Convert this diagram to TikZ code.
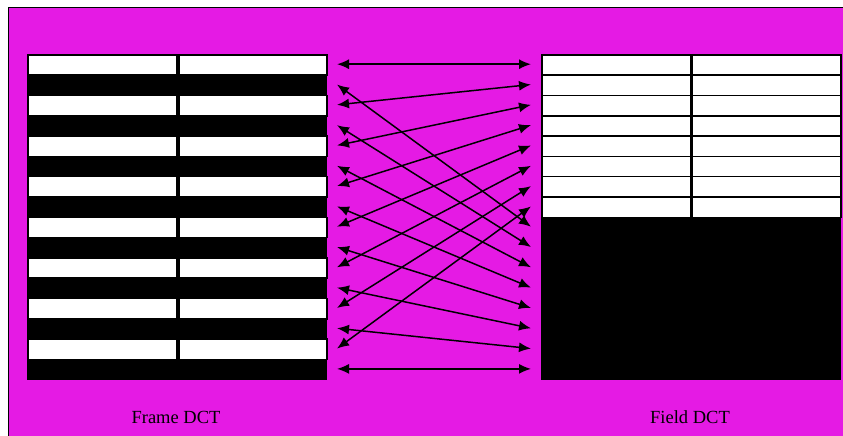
\documentclass[tikz,border=0pt]{standalone}
\usepackage{fontspec}
\setmainfont{Liberation Serif}
\usetikzlibrary{arrows.meta}
\definecolor{bgmag}{RGB}{229,26,228}
\begin{document}
\begin{tikzpicture}[x=1pt,y=-1pt,
  blk/.style={rectangle,fill=black,draw=black,line width=1pt,inner sep=0pt,anchor=north west},
  cell/.style={rectangle,fill=white,draw=black,line width=1.6pt,inner sep=0pt,
    minimum height=20.3125pt,anchor=north west},
  dbl/.style={{Latex[length=12pt,width=10pt]}-{Latex[length=12pt,width=10pt]},line width=1.5pt},
  lbl/.style={font=\fontsize{18.5}{20}\selectfont,inner sep=0pt}]
\useasboundingbox (0,0) rectangle (843,436);
\fill[bgmag,draw=black,line width=1.2pt] (8.5,7.5) rectangle (870,460);
% frame block
\node[blk,minimum width=299pt,minimum height=325pt] (frame) at (27,54) {};
\foreach \i in {0,2,...,14}{
  \node[cell,minimum width=148.5pt] (fa\i) at (27,{54+\i*20.3125}) {};
  \node[cell,minimum width=148pt] (fb\i) at (178,{54+\i*20.3125}) {};
}
% field block
\node[blk,minimum width=299pt,minimum height=325pt] (field) at (541,54) {};
\foreach \i in {0,...,7}{
  \node[cell,minimum width=149pt] (ga\i) at (541,{54+\i*20.3125}) {};
  \node[cell,minimum width=149pt] (gb\i) at (691,{54+\i*20.3125}) {};
}
% arrow end points
\foreach \i in {0,...,15}{
  \coordinate (L\i) at (337,{64.2+\i*20.3125});
  \coordinate (R\i) at (531,{64.2+\i*20.3125});
}
\foreach \k [evaluate=\k as \a using int(2*\k), evaluate=\k as \b using int(2*\k+1), evaluate=\k as \c using int(8+\k)] in {0,...,7}{
  \draw[dbl] (L\a) -- (R\k);
  \draw[dbl] (L\b) -- (R\c);
}
\node[lbl] (framelbl) at (176,417) {Frame DCT};
\node[lbl] (fieldlbl) at (690,417) {Field DCT};
\end{tikzpicture}
\end{document}
